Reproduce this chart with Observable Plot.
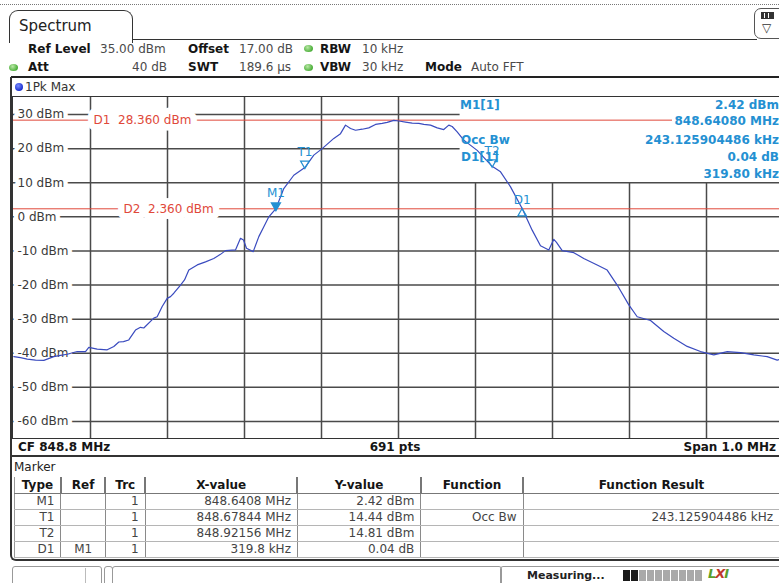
<!DOCTYPE html>
<html><head><meta charset="utf-8">
<script src="https://cdn.jsdelivr.net/npm/d3@7"></script>
<script src="https://cdn.jsdelivr.net/npm/@observablehq/plot@0.6"></script>
<style>
body{margin:0;width:779px;height:583px;overflow:hidden;background:#fff;font-family:"DejaVu Sans",Verdana,sans-serif;position:relative;}
.a{position:absolute;white-space:nowrap;line-height:14px;height:14px;font-size:12px;}
.b{font-weight:bold;color:#151515;}
.v{color:#4a4a4a;}
.m{font-weight:bold;color:#2490d2;}
.dot{position:absolute;width:9px;height:7px;border-radius:50%;background:radial-gradient(circle at 40% 35%,#b9e8a6,#4caf3a 70%);}
#plotbox{position:absolute;left:12px;top:96px;width:772px;height:343px;box-sizing:border-box;border:1px solid #333;overflow:hidden;}
#chart{position:absolute;left:0;top:0;width:770px;height:341px;}
table.mk{position:absolute;left:14px;top:477px;border-collapse:collapse;font-size:12px;color:#444;}
table.mk td,table.mk th{height:15px;padding:0 6px;border-left:1px solid #8a8a8a;border-bottom:1px solid #b5b5b5;white-space:nowrap;line-height:15px;}
table.mk th{font-weight:bold;color:#151515;border-bottom:1px solid #777;border-left:2px solid #777;text-align:center;height:16px;}
table.mk td{text-align:right;}
</style></head>
<body>
<script>
// ---------- data ----------
const freqMHz = [
 848.3004,848.3091,848.3178,848.3286,848.3394,848.3523,848.3610,848.3697,848.3827,848.3935,
 848.3978,848.4087,848.4217,848.4303,848.4368,848.4429,848.4497,848.4584,848.4649,848.4692,
 848.4822,848.4866,848.4931,848.4996,848.5039,848.5082,848.5169,848.5221,848.5277,848.5386,
 848.5494,848.5601,848.5688,848.5753,848.5883,848.5948,848.5987,848.6026,848.6113,848.6186,
 848.6251,848.6316,848.6408,848.6510,848.6640,848.6784,848.6900,848.7009,848.7160,848.7247,
 848.7312,848.7377,848.7442,848.7529,848.7614,848.7701,848.7788,848.7853,848.7939,848.8004,
 848.8091,848.8178,848.8264,848.8329,848.8416,848.8503,848.8588,848.8653,848.8697,848.8762,
 848.8848,848.9022,848.9216,848.9325,848.9455,848.9606,848.9736,848.9844,848.9952,849.0017,
 849.0052,849.0126,849.0277,849.0406,849.0580,849.0710,849.0840,849.0991,849.1100,849.1273,
 849.1445,849.1575,849.1749,849.1922,849.2095,849.2269,849.2442,849.2615,849.2788,849.2918,
 849.3000];
const levelDbm = [
 -41.0,-41.3,-41.7,-42.0,-42.1,-41.0,-40.6,-40.3,-39.5,-39.5,
 -38.3,-38.8,-39.0,-38.0,-36.7,-36.6,-36.1,-33.2,-32.4,-32.6,
 -29.7,-29.3,-26.3,-23.9,-23.4,-22.4,-20.0,-18.5,-15.6,-14.1,
 -13.2,-12.2,-11.0,-9.9,-9.7,-6.3,-6.8,-9.2,-10.2,-5.8,
 -2.9,0.0,2.42,8.3,12.2,14.44,18.1,20.0,23.0,24.4,
 26.9,25.9,25.4,25.7,26.1,27.1,27.4,27.7,28.3,28.1,
 27.8,27.5,27.4,27.1,26.9,26.1,25.6,26.9,26.5,24.9,
 22.5,19.5,14.81,13.2,8.8,2.46,-3.9,-8.5,-9.7,-6.6,
 -7.5,-9.9,-10.5,-12.2,-14.1,-15.6,-20.0,-25.8,-29.3,-30.4,
 -33.6,-35.6,-38.0,-39.5,-40.5,-39.5,-39.8,-40.5,-41.0,-42.0,
 -41.5];
const yTicks = [30,20,10,0,-10,-20,-30,-40,-50,-60];
const xGridMHz = [848.4,848.5,848.6,848.7,848.8,848.9,849.0,849.1,849.2];
const xDomainMHz = [848.3, 849.3];
const yDomainDbm = [-65, 35];
const infoBoxLeftMHz = 848.88;
const infoBoxBottomDbm = 10;
const displayLineNames = ["D1","D2"];
const displayLineLevels = [28.36, 2.36];
const markerNames = ["M1","T1","T2","D1"];
const markerFreqMHz = [848.6408, 848.67844, 848.92156, 848.9606];
const markerLevelDbm = [2.42, 14.44, 14.81, 2.46];
// marker table
const tblType = ["M1","T1","T2","D1"];
const tblRef = ["","","","M1"];
const tblTrc = ["1","1","1","1"];
const tblX = ["848.6408 MHz","848.67844 MHz","848.92156 MHz","319.8 kHz"];
const tblY = ["2.42 dBm","14.44 dBm","14.81 dBm","0.04 dB"];
const tblFunc = ["","Occ Bw","",""];
const tblResult = ["","243.125904486 kHz","",""];
</script>

<!-- top dotted line -->
<div style="position:absolute;left:0;top:4px;width:779px;border-top:1px dotted #777;"></div>
<!-- tab -->
<div style="position:absolute;left:9px;top:10px;width:122px;height:32px;border:1.5px solid #333;border-bottom:none;border-radius:9px 9px 0 0;background:#fff;"></div>
<div class="a" style="left:19px;top:17px;font-size:15px;line-height:18px;height:18px;color:#222;">Spectrum</div>
<div style="position:absolute;left:132px;top:39px;width:625px;border-top:1.5px solid #333;"></div>
<!-- right icon -->
<div style="position:absolute;left:754px;top:8px;width:30px;height:29px;border:1.5px solid #555;border-radius:7px;background:#fff;"></div>
<div style="position:absolute;left:761px;top:12px;width:11px;height:5px;background:#333;border:1px solid #333;"></div>
<div style="position:absolute;left:764px;top:13px;width:1px;height:5px;background:#fff;"></div>
<div style="position:absolute;left:768px;top:13px;width:1px;height:5px;background:#fff;"></div>
<div class="a" style="left:762px;top:21px;color:#333;font-size:12px;">▽</div>

<!-- header rows -->
<div class="a b" style="left:28px;top:42px;">Ref Level</div>
<div class="a v" style="left:100px;top:42px;">35.00 dBm</div>
<div class="a b" style="left:188px;top:42px;">Offset</div>
<div class="a v" style="left:239px;top:42px;">17.00 dB</div>
<div class="dot" style="left:304px;top:45px;"></div>
<div class="a b" style="left:320px;top:42px;">RBW</div>
<div class="a v" style="left:362px;top:42px;">10 kHz</div>

<div class="dot" style="left:9px;top:64px;"></div>
<div class="a b" style="left:28px;top:60px;">Att</div>
<div class="a v" style="left:131px;top:60px;width:36px;text-align:right;">40 dB</div>
<div class="a b" style="left:188px;top:60px;">SWT</div>
<div class="a v" style="left:239px;top:60px;">189.6 µs</div>
<div class="dot" style="left:304px;top:64px;"></div>
<div class="a b" style="left:320px;top:60px;">VBW</div>
<div class="a v" style="left:362px;top:60px;">30 kHz</div>
<div class="a b" style="left:425px;top:60px;">Mode</div>
<div class="a v" style="left:471px;top:60px;">Auto FFT</div>

<!-- thick line -->
<div style="position:absolute;left:11px;top:76px;width:770px;height:2px;background:#222;"></div>
<!-- panel left border -->
<div style="position:absolute;left:10px;top:77px;width:2px;height:380px;background:#333;"></div>
<div style="position:absolute;left:10px;top:455px;width:772px;height:2px;background:#333;"></div>
<!-- 1Pk Max -->
<div style="position:absolute;left:15px;top:83px;width:8px;height:8px;border-radius:50%;background:radial-gradient(circle at 40% 35%,#7a8cff,#1a2fd0 70%);"></div>
<div class="a v" style="left:25px;top:80px;color:#333;">1Pk Max</div>

<!-- plot area -->
<div id="plotbox"><div id="chart"></div></div>

<!-- marker info box -->
<div class="a m" style="left:460px;top:98px;">M1[1]</div>
<div class="a m" style="right:0;top:98px;">2.42 dBm</div>
<div class="a m" style="right:0;top:114px;background:#fff;padding-left:2px;">848.64080 MHz</div>
<div class="a m" style="left:461px;top:133px;">Occ Bw</div>
<div class="a m" style="right:0;top:133px;">243.125904486 kHz</div>
<div class="a m" style="left:461px;top:150px;">D1[1]</div>
<div class="a m" style="right:0;top:150px;">0.04 dB</div>
<div class="a m" style="right:0;top:167px;">319.80 kHz</div>

<!-- bottom info row -->
<div class="a b" style="left:18px;top:440px;">CF 848.8 MHz</div>
<div class="a b" style="left:345px;top:440px;width:100px;text-align:center;">691 pts</div>
<div class="a b" style="right:3px;top:440px;">Span 1.0 MHz</div>

<!-- marker panel -->
<div style="position:absolute;left:10px;top:457px;width:775px;height:104px;box-sizing:border-box;border-left:2px solid #333;border-bottom:2px solid #333;border-radius:0 0 0 6px;"></div>
<div class="a" style="left:14px;top:460px;color:#222;">Marker</div>
<table class="mk" id="mk"></table>

<!-- status bar -->
<div style="position:absolute;left:12px;top:566px;width:88px;height:20px;border:1px solid #999;border-radius:3px 3px 0 0;"></div>
<div style="position:absolute;left:85px;top:568px;width:1px;height:16px;background:#bbb;"></div>
<div style="position:absolute;left:104px;top:566px;width:7px;height:20px;border:1px solid #999;border-radius:3px 3px 0 0;"></div>
<div style="position:absolute;left:112px;top:566px;width:388px;height:20px;border:1px solid #999;border-radius:3px 3px 0 0;"></div>
<div style="position:absolute;left:500px;top:566px;width:290px;height:20px;border:1px solid #999;border-radius:3px 3px 0 0;"></div>
<div class="a b" style="left:527px;top:569px;font-size:11px;color:#222;">Measuring...</div>
<div id="prog" style="position:absolute;left:623px;top:570px;height:11px;display:flex;gap:1px;"></div>
<div class="a" style="left:708px;top:567px;font-size:13px;font-weight:bold;font-style:italic;color:#5aa02c;letter-spacing:-1px;">L<span style="color:#c0392b">X</span>I</div>

<script>
// marker table
{
  const t = document.getElementById("mk");
  const heads = ["Type","Ref","Trc","X-value","Y-value","Function","Function Result"];
  const widths = [45,43,38,153,124,102,262];
  let h = "<tr>" + heads.map((s,i)=>`<th style="width:${widths[i]-12}px;${i===0?'border-left:1px solid #999;':''}">${s}</th>`).join("") + "</tr>";
  for (let i = 0; i < tblType.length; i++) {
    const row = [tblType[i], tblRef[i], tblTrc[i], tblX[i], tblY[i], tblFunc[i], tblResult[i]];
    h += "<tr>" + row.map((s,j)=>`<td style="${j===0?'border-left:1px solid #999;':''}${j===1?'text-align:center;':''}">${s}</td>`).join("") + "</tr>";
  }
  t.innerHTML = h;
  const p = document.getElementById("prog");
  for (let k = 0; k < 10; k++) {
    const d = document.createElement("div");
    d.style.cssText = `width:7px;height:11px;background:${k<2?'#1a1a1a':'#a9a9a9'};`;
    p.appendChild(d);
  }
}

// chart
const trace = freqMHz.map((f, i) => ({f, v: levelDbm[i]}));
const markers = markerNames.map((n, i) => ({n, f: markerFreqMHz[i], v: markerLevelDbm[i]}));
const gridColor = "#4a4a4a";
const red = "#e0483a";
const blue = "#2490d2";
const halo = {stroke: "white", strokeWidth: 9, strokeLinejoin: "round", paintOrder: "stroke"};
const haloWide = {stroke: "white", strokeWidth: 13, strokeLinejoin: "round", paintOrder: "stroke"};
const chart = Plot.plot({
  width: 770, height: 341,
  marginTop: 0, marginRight: 0, marginBottom: 0, marginLeft: 0,
  x: {domain: xDomainMHz, axis: null},
  y: {domain: yDomainDbm, axis: null},
  style: {fontFamily: "DejaVu Sans", fontSize: "12px", background: "white"},
  marks: [
    Plot.ruleX(xGridMHz, {x: d => d, y1: yDomainDbm[0], y2: d => d > infoBoxLeftMHz ? infoBoxBottomDbm : yDomainDbm[1], stroke: gridColor, strokeWidth: 1.5}),
    Plot.ruleY(yTicks, {y: d => d, x1: xDomainMHz[0], x2: d => d > infoBoxBottomDbm ? infoBoxLeftMHz : xDomainMHz[1], stroke: gridColor, strokeWidth: 1.5}),
    Plot.text(yTicks, {y: d => d, text: d => `${d} dBm`, frameAnchor: "left", dx: 4, textAnchor: "start", fill: "#3a3a3a", ...halo}),
    Plot.ruleY(displayLineLevels, {y: d => d, stroke: red, strokeWidth: 1}),
    Plot.text([displayLineLevels[0]], {y: d => d, text: d => `${displayLineNames[0]}  ${d.toFixed(3)} dBm`, frameAnchor: "left", dx: 80, textAnchor: "start", fill: red, ...haloWide}),
    Plot.text([displayLineLevels[1]], {y: d => d, text: d => `${displayLineNames[1]}  ${d.toFixed(3)} dBm`, frameAnchor: "left", dx: 110, textAnchor: "start", fill: red, ...haloWide}),
    Plot.line(trace, {x: "f", y: "v", stroke: "#3a4bbf", strokeWidth: 1.2}),
    Plot.dot(markers.filter(d => d.n === "M1"), {x: "f", y: "v", symbol: "triangle", rotate: 180, r: 3.2, fill: blue, stroke: blue, dy: -3}),
    Plot.dot(markers.filter(d => d.n === "T1" || d.n === "T2"), {x: "f", y: "v", symbol: "triangle", rotate: 180, r: 3.2, fill: "none", stroke: blue, strokeWidth: 1.2, dy: -4}),
    Plot.dot(markers.filter(d => d.n === "D1"), {x: "f", y: "v", symbol: "triangle", r: 3.2, fill: "none", stroke: blue, strokeWidth: 1.2, dy: 5}),
    Plot.text(markers.filter(d => d.n !== "D1"), {x: "f", y: "v", text: "n", fill: blue, dy: -15, fontSize: 12}),
    Plot.text(markers.filter(d => d.n === "D1"), {x: "f", y: "v", text: "n", fill: blue, dy: -8, fontSize: 12})
  ]
});
document.getElementById("chart").appendChild(chart);
</script>
</body></html>
